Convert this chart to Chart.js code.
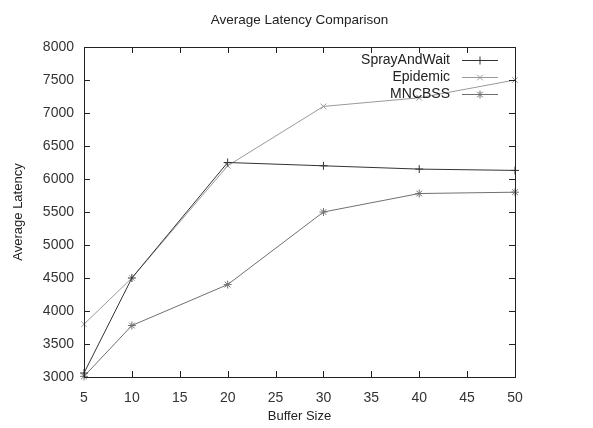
<!DOCTYPE html>
<html>
<head>
<meta charset="utf-8">
<script src="https://cdn.jsdelivr.net/npm/chart.js@4/dist/chart.umd.min.js"></script>
<style>
html,body{margin:0;padding:0;background:#fff;}
#wrap{width:593px;height:428px;}
</style>
</head>
<body>
<div id="wrap"><canvas id="c" width="593" height="428"></canvas></div>
<script>
const bufferSizes = [5, 10, 20, 30, 40, 50];
const sprayAndWait = [3060, 4500, 6250, 6200, 6150, 6130];
const epidemic = [3800, 4500, 6200, 7100, 7230, 7500];
const mncbss = [3010, 3780, 4400, 5500, 5780, 5800];
const seriesNames = ["SprayAndWait", "Epidemic", "MNCBSS"];
const seriesColors = ["#333333", "#9a9a9a", "#707070"];
const seriesMarkers = ["cross", "crossRot", "star"];
const chartTitle = "Average Latency Comparison";
const xTitle = "Buffer Size";
const yTitle = "Average Latency";

const FONT = "'Liberation Sans', Arial, sans-serif";

function mk(values, i) {
  return {
    label: seriesNames[i],
    data: bufferSizes.map((x, k) => ({x: x, y: values[k]})),
    borderColor: seriesColors[i],
    backgroundColor: seriesColors[i],
    borderWidth: 1,
    pointStyle: seriesMarkers[i],
    pointRadius: 4,
    pointBorderWidth: 1,
    pointHoverRadius: 4,
    tension: 0,
    clip: false
  };
}

const frame = {
  id: 'frame',
  afterDraw(chart) {
    const {ctx, chartArea: a, scales} = chart;
    ctx.save();
    // title centred over plot area
    ctx.font = "13.5px " + FONT;
    ctx.fillStyle = '#222';
    ctx.textAlign = 'center';
    ctx.textBaseline = 'middle';
    ctx.fillText(chartTitle, (a.left + a.right) / 2, 20);

    ctx.strokeStyle = '#222';
    ctx.lineWidth = 1;
    ctx.strokeRect(Math.round(a.left) + 0.5, Math.round(a.top) + 0.5,
                   Math.round(a.right - a.left), Math.round(a.bottom - a.top));
    const L = 6;
    ctx.beginPath();
    scales.x.ticks.forEach(t => {
      const px = Math.round(scales.x.getPixelForValue(t.value)) + 0.5;
      ctx.moveTo(px, a.bottom); ctx.lineTo(px, a.bottom - L);
      ctx.moveTo(px, a.top); ctx.lineTo(px, a.top + L);
    });
    scales.y.ticks.forEach(t => {
      const py = Math.round(scales.y.getPixelForValue(t.value)) + 0.5;
      ctx.moveTo(a.left, py); ctx.lineTo(a.left + L, py);
      ctx.moveTo(a.right, py); ctx.lineTo(a.right - L, py);
    });
    ctx.stroke();

    // legend (gnuplot style, inside top-right)
    const ds = chart.data.datasets;
    ctx.font = "14px " + FONT;
    ctx.textAlign = 'right';
    ctx.textBaseline = 'middle';
    const textRight = a.right - 65;
    const x0 = a.right - 53, x1 = a.right - 17;
    ds.forEach((d, i) => {
      const y = a.top + 13 + i * 17;
      ctx.fillStyle = '#222';
      ctx.fillText(d.label, textRight, y);
      ctx.strokeStyle = d.borderColor;
      ctx.lineWidth = 1;
      ctx.beginPath();
      ctx.moveTo(x0, y + 0.5); ctx.lineTo(x1, y + 0.5);
      ctx.stroke();
      Chart.helpers.drawPoint(ctx, {pointStyle: d.pointStyle, radius: 4, rotation: 0, borderWidth: 1},
        (x0 + x1) / 2, y + 0.5);
    });
    ctx.restore();
  }
};

new Chart(document.getElementById('c'), {
  type: 'line',
  data: {
    datasets: [mk(sprayAndWait, 0), mk(epidemic, 1), mk(mncbss, 2)]
  },
  options: {
    responsive: false,
    animation: false,
    devicePixelRatio: 1,
    layout: {padding: {left: 0, right: 78, top: 47, bottom: 0}},
    plugins: {
      legend: {display: false},
      tooltip: {enabled: false},
      title: {display: false}
    },
    scales: {
      x: {
        type: 'linear',
        min: 5, max: 50,
        ticks: {stepSize: 5, color: '#333', font: {family: FONT, size: 14}, padding: 13, maxRotation: 0,
                callback: v => String(v)},
        grid: {display: false, drawTicks: false},
        border: {display: false},
        title: {display: true, text: xTitle, color: '#222', font: {family: FONT, size: 13}, padding: {top: 6, bottom: 4}},
        afterFit(s) { s.height = 51; }
      },
      y: {
        min: 3000, max: 8000,
        ticks: {stepSize: 500, color: '#333', font: {family: FONT, size: 14}, padding: 10,
                callback: v => String(v)},
        grid: {display: false, drawTicks: false},
        border: {display: false},
        title: {display: true, text: yTitle, color: '#222', font: {family: FONT, size: 13}, padding: {top: 11, bottom: 8}},
        afterFit(s) { s.width = 84; }
      }
    }
  },
  plugins: [frame]
});
</script>
</body>
</html>
